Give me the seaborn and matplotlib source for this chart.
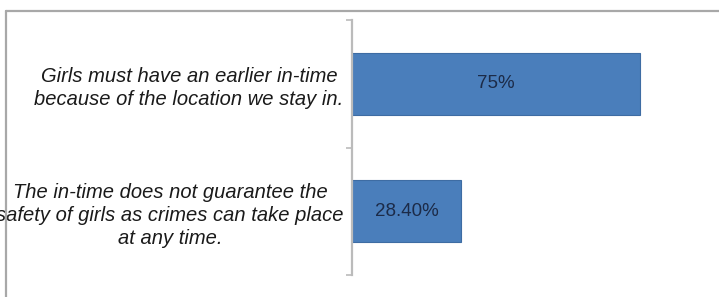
import matplotlib
matplotlib.use("Agg")
import matplotlib.pyplot as plt
import seaborn as sns
import pandas as pd
from matplotlib.lines import Line2D

categories = [
    "Girls must have an earlier in-time\nbecause of the location we stay in.",
    "The in-time does not guarantee the\nsafety of girls as crimes can take place\nat any time.",
]
values = [75.0, 28.4]
value_labels = ["75%", "28.40%"]

sns.set_theme(style="white")
plt.rcParams["font.family"] = ["Liberation Sans", "DejaVu Sans"]

W, H = 719, 297
fig = plt.figure(figsize=(W / 100, H / 100), dpi=100)
fig.patch.set_facecolor("white")

ax_left, ax_top, ax_bottom = 352, 20, 275
ax = fig.add_axes([ax_left / W, 1 - ax_bottom / H, (W - ax_left) / W, (ax_bottom - ax_top) / H])

df = pd.DataFrame({"cat": categories, "val": values})
sns.barplot(data=df, y="cat", x="val", orient="h", color="#4A7EBB",
            saturation=1, width=0.49, edgecolor="#3E6CA3", linewidth=0.8, ax=ax)

ax.set_xlim(0, (W - ax_left) / (288 / 75))
ax.set_ylim(1.5, -0.5)
ax.set_xlabel("")
ax.set_ylabel("")
ax.set_xticks([])

for s in ["top", "right", "bottom"]:
    ax.spines[s].set_visible(False)
ax.spines["left"].set_color("#BBBBBB")
ax.spines["left"].set_linewidth(1.6)

ax.set_yticks([0, 1])
ax.set_yticklabels(categories, fontsize=14.5, style="italic", color="#1a1a1a",
                   multialignment="center", linespacing=1.3)
ax.tick_params(axis="y", which="major", length=0, pad=6)
ax.set_yticks([-0.5, 0.5, 1.5], minor=True)
ax.tick_params(axis="y", which="minor", left=True, length=4, width=1.2, color="#BBBBBB")

for i, (v, lab) in enumerate(zip(values, value_labels)):
    ax.text(v / 2, i, lab, ha="center", va="center", fontsize=13.5, color="#1C2B48")

# outer chart frame (cropped on right and bottom)
fx0, fy0 = 5.5 / W, 1 - 10.5 / H
fig.add_artist(Line2D([fx0, 1.0], [fy0, fy0], transform=fig.transFigure, color="#A8A8A8", lw=1.6))
fig.add_artist(Line2D([fx0, fx0], [fy0, 0.0], transform=fig.transFigure, color="#A8A8A8", lw=1.6))

fig.savefig("out.png", dpi=100)
